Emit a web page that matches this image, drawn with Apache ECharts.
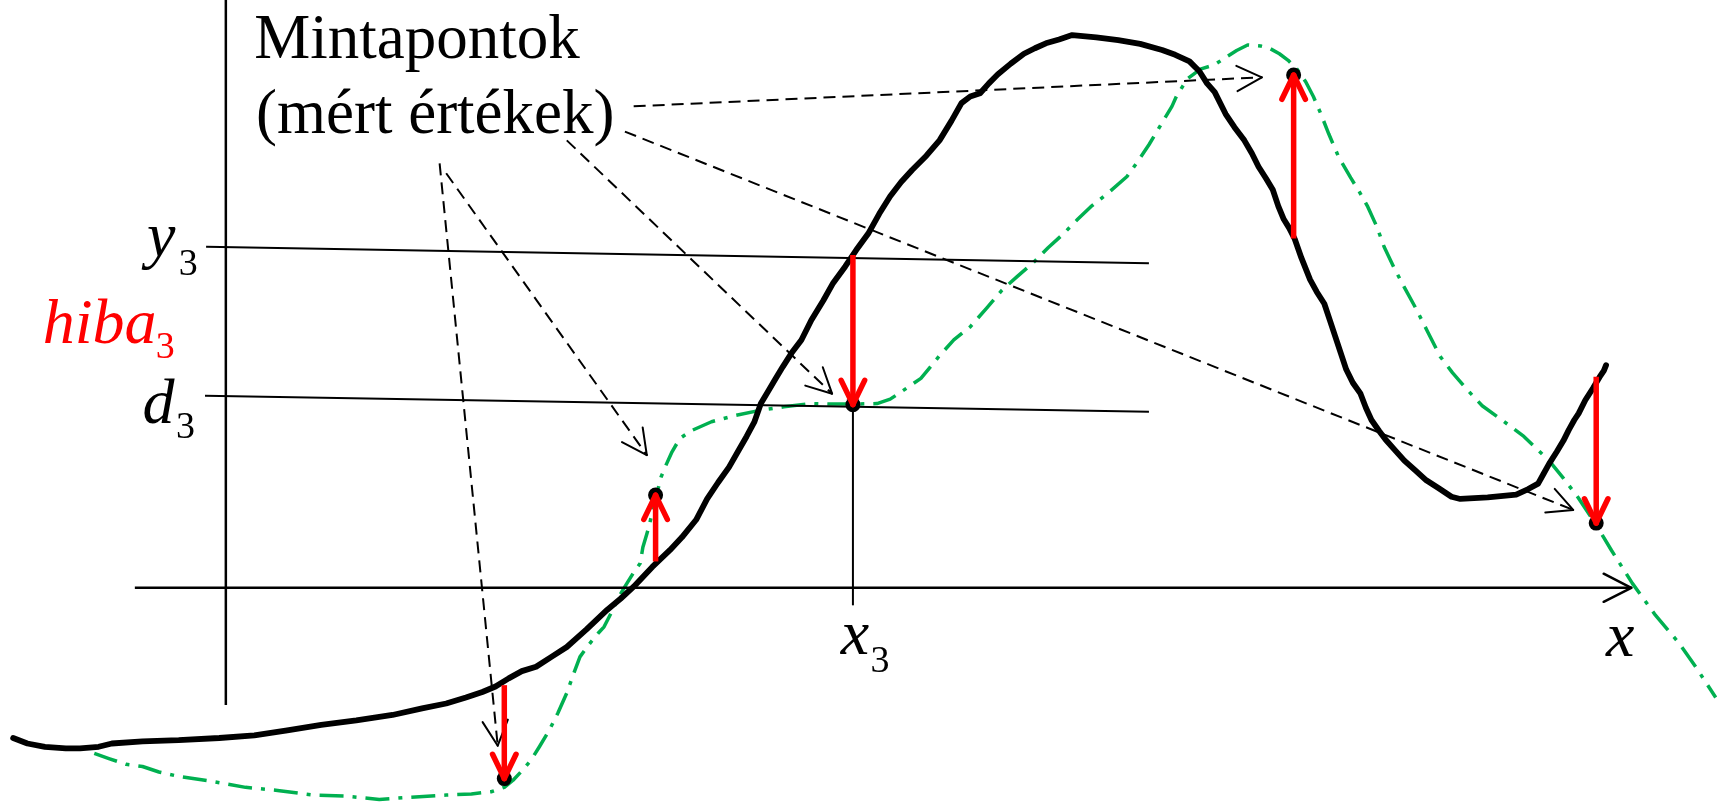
<!DOCTYPE html>
<html>
<head>
<meta charset="utf-8">
<script src="https://cdn.jsdelivr.net/npm/echarts@6/dist/echarts.min.js"></script>
<style>
html,body{margin:0;padding:0;background:#fff;}
#chart{width:1719px;height:806px;}
</style>
</head>
<body>
<div id="chart"></div>
<script>
// ---- data (diagram units; origin = axis crossing) ----
const modelCurve = [
[-194,-137],[-181,-142],[-165,-145],[-146,-146.5],[-133,-146.5],[-116,-145],[-104,-142],[-76,-140],[-43,-139],[-6,-137],
[26,-134.5],[56,-130],[87,-125],[119,-121],[152,-116],[179,-110],[201,-105.5],[219,-100],[234,-95],[246,-90],
[258,-82.6],[270,-76],[283,-72],[297,-63],[311,-54],[329,-38],[348,-20],[360,-10],[372,1],[389,19],
[405,34.3],[416,46],[429,62],[439,81],[449,96],[459,110],[467,124],[475,138],[482,151],[488,168],
[494,178],[501,190],[508,201.5],[516,214],[525,226],[534,244],[545,262],[554,278],[565,293],[575,308],
[586,323],[596,341],[606,357],[616,370],[626,381],[639,394],[651,408],[662,426],[671,442],[679,448],
[688,451],[696,460],[704,468],[716,478],[728,487],[738,492],[748,496.5],[760,500],[772,504],[794,502],
[814,499.5],[834,496],[854,490.4],[866,486],[879,480],[888,471],[895,460],[902,452],[912,432],[920,420],
[929,408],[936,396],[942,384],[949,373],[955,363],[960,348],[965,336],[970,328],[975,318],[981,301],
[989,281],[995,270],[1002,259],[1007,244],[1012,229],[1017,214],[1022,199],[1028,187],[1035,177],[1040,164],
[1045,153],[1052,143],[1058,135],[1066,126],[1075,116],[1085,107],[1095,98],[1106,91],[1118,83],[1126,81],
[1151,82.5],[1177,85],[1188,90],[1197,95],[1202,104],[1207,113],[1214,124],[1220,134],[1225,144],[1230,153],
[1234,159],[1240,171],[1247,182],[1253,192],[1257,198],[1259,203]
];
const measuredCurve = [
[-120,-151],[-106,-156],[-91,-161],[-76,-163],[-61,-168],[-43,-172],[-16,-176],[18,-182],[49,-185],[79,-189],
[109,-190],[140,-193],[169,-191],[201,-189],[224,-188],[242,-186],[254,-182],[262,-175.5],[270,-167],[278.5,-157],
[286,-145],[295,-130],[303,-114],[311,-96],[317,-79],[323,-63],[331,-52],[339.6,-41.5],[345,-35.6],[352,-22],
[358,-9],[364,1],[372,14],[378,22.3],[380.4,37],[384,49],[386,56],[390,73],[394,89],[397,101],
[402,113],[407,124],[414,136],[424,143],[443,151.4],[464,157],[488,162],[509,165],[533,168],[554,167.5],
[574,167.5],[594,168],[606,172],[618,180],[634,191],[650.5,211],[664,226],[679,238],[694,255],[708,271.5],
[722,284],[736,296],[750,310],[764.5,323.3],[777,336],[789,347.5],[806,361],[822,375],[832,389],[842,404],
[854,424],[863,439],[867,448],[877,464],[889,473],[902,477],[911,483],[922,490],[932,495],[944,494],
[952,492],[961,487],[969,481],[977,473],[985,461.5],[992,448],[998.5,433],[1006,414],[1015,393],[1026,374],
[1034,361],[1041.6,347.5],[1050,329],[1056.5,311],[1066,291],[1075,274],[1084.7,256.3],[1096,234],[1107.6,211],[1119,196],
[1131,182],[1146,166],[1164,153],[1184,138],[1207,116],[1220,100],[1233,83],[1249,59],[1264,34],[1283,4],
[1304,-25],[1326,-51],[1342,-74],[1359,-100]
];
const sampleX        = [254, 392, 572, 974, 1250];
const sampleMeasured = [-174, 84.5, 167, 467.6, 59];
const sampleModel    = [-88.8, 24, 303.4, 318.6, 192.4];

// dashed pointers from the caption to the sample points: [x1, y1, x2, y2]
const pointerFrom = [[195,387],[201,378],[311,408],[372,439],[364,416]];
const pointerTo   = [[248,-144],[384,121],[553,177],[945,465.5],[1229,71]];

// axes and guide lines: [x1, y1, x2, y2]
const xAxisLine = [[-83,0,1282,0]];
const yAxisLine = [[0,536,0,-107]];
const guideLines = [[-18,311,842,296],[-19,175,842,160.5],[572,165,572,-16]];

// texts
const labelTexts = ['Mintapontok','(mért értékek)','y','3','hiba','3','d','3','x','3','x'];
const labelAnchors = [[26,481],[27.5,413],[-72,300],[-43,284],[-167,221],[-64,208],[-76,148],[-45.5,135],[561,-63],[588,-78],[1259,-64]];

// ---- styles ----
const FONT_FAMILY = 'Liberation Serif';
const labelStyle = [
  {size:63, italic:false, color:'#000'},
  {size:63, italic:false, color:'#000'},
  {size:64, italic:true,  color:'#000'},
  {size:38, italic:false, color:'#000'},
  {size:64, italic:true,  color:'#ff0000'},
  {size:38, italic:false, color:'#ff0000'},
  {size:64, italic:true,  color:'#000'},
  {size:38, italic:false, color:'#000'},
  {size:64, italic:true,  color:'#000'},
  {size:38, italic:false, color:'#000'},
  {size:64, italic:true,  color:'#000'}
];

function segSeries(name, segs, st, arrow) {
  return {
    type: 'custom', name: name, coordinateSystem: 'cartesian2d', silent: true, z: st.z || 3,
    encode: {x: [0, 2], y: [1, 3]},
    data: segs,
    renderItem: function (params, api) {
      const p1 = api.coord([api.value(0), api.value(1)]);
      const p2 = api.coord([api.value(2), api.value(3)]);
      const children = [{
        type: 'line',
        shape: {x1: p1[0], y1: p1[1], x2: p2[0], y2: p2[1]},
        style: {stroke: st.color, lineWidth: st.width, lineDash: st.dash || null, lineCap: st.cap || 'butt'}
      }];
      if (arrow) {
        const ang = Math.atan2(p2[1] - p1[1], p2[0] - p1[0]);
        [-1, 1].forEach(function (s) {
          const a = ang + Math.PI + s * arrow.half;
          children.push({
            type: 'line',
            shape: {x1: p2[0], y1: p2[1], x2: p2[0] + arrow.len * Math.cos(a), y2: p2[1] + arrow.len * Math.sin(a)},
            style: {stroke: st.color, lineWidth: arrow.width || st.width, lineCap: 'round'}
          });
        });
      }
      return {type: 'group', children: children};
    }
  };
}

const errorSegs = sampleX.map(function (x, i) { return [x, sampleModel[i], x, sampleMeasured[i]]; });
const pointerSegs = pointerFrom.map(function (p, i) { return [p[0], p[1], pointerTo[i][0], pointerTo[i][1]]; });

const chart = echarts.init(document.getElementById('chart'), null, {renderer: 'canvas'});
chart.setOption({
  animation: false,
  backgroundColor: '#ffffff',
  grid: {left: 0, right: 0, top: 0, bottom: 0},
  xAxis: {type: 'value', min: -206, max: 1362, show: false},
  yAxis: {type: 'value', min: -199, max: 536, show: false},
  series: [
    {
      type: 'line', name: 'mért', data: measuredCurve, showSymbol: false, silent: true, z: 2,
      lineStyle: {color: '#00b050', width: 3.5, type: [24, 9, 4, 9], cap: 'butt', join: 'round'}
    },
    {
      type: 'line', name: 'modell', data: modelCurve, showSymbol: false, silent: true, z: 3,
      lineStyle: {color: '#000000', width: 5.8, cap: 'round', join: 'round'}
    },
    segSeries('x tengely', xAxisLine, {color: '#000', width: 2.5, z: 4}, {len: 31, half: 0.47, width: 2.5}),
    segSeries('y tengely', yAxisLine, {color: '#000', width: 2.5, z: 4}, null),
    segSeries('segédvonalak', guideLines, {color: '#000', width: 2, z: 4}, null),
    segSeries('mutatók', pointerSegs, {color: '#000', width: 2, dash: [12, 7], z: 5}, {len: 28, half: 0.47, width: 2}),
    {
      type: 'scatter', name: 'mintapontok', z: 6, silent: true,
      data: sampleX.map(function (x, i) { return [x, sampleMeasured[i]]; }),
      symbol: 'circle', symbolSize: 15, itemStyle: {color: '#000', opacity: 1}
    },
    segSeries('hiba', errorSegs, {color: '#ff0000', width: 5.5, z: 7}, {len: 27, half: 0.45, width: 5.5}),
    {
      type: 'custom', name: 'feliratok', coordinateSystem: 'cartesian2d', silent: true, z: 8,
      encode: {x: 0, y: 1},
      data: labelAnchors.map(function (p, i) { return [p[0], p[1], i]; }),
      renderItem: function (params, api) {
        const i = api.value(2);
        const st = labelStyle[i];
        const p = api.coord([api.value(0), api.value(1)]);
        return {
          type: 'text',
          x: p[0], y: p[1] - 0.3 * st.size,
          style: {
            text: labelTexts[i],
            fontFamily: FONT_FAMILY,
            fontSize: st.size,
            fontStyle: st.italic ? 'italic' : 'normal',
            fill: st.color,
            align: 'left',
            verticalAlign: 'middle'
          }
        };
      }
    }
  ]
});
</script>
</body>
</html>
